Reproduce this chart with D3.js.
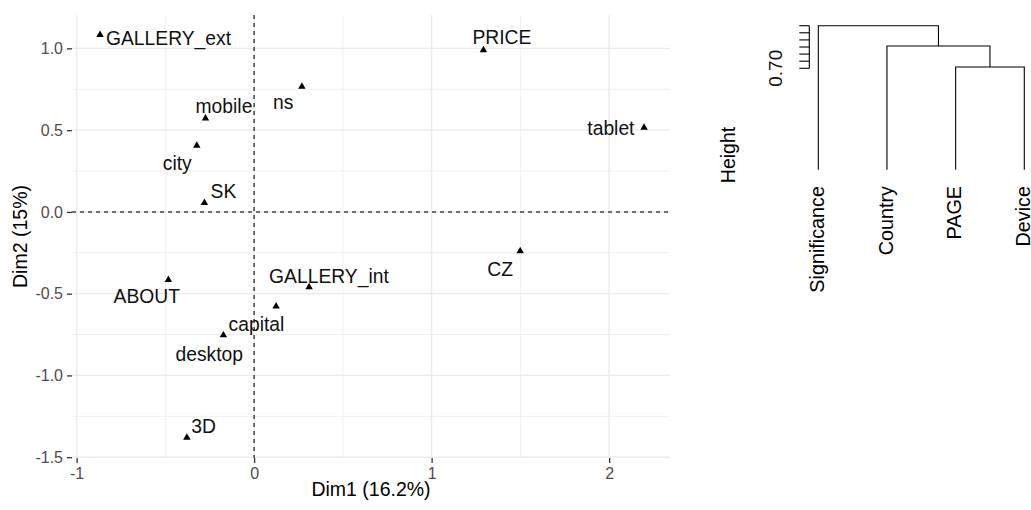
<!DOCTYPE html>
<html>
<head>
<meta charset="utf-8">
<script src="https://cdn.jsdelivr.net/npm/d3@7"></script>
<style>
  html, body { margin: 0; padding: 0; background: #fff; }
  svg { display: block; font-family: "Liberation Sans", Arial, sans-serif; }
</style>
</head>
<body>
<svg id="chart" width="1031" height="510"></svg>
<script>
// ---- MCA factor map: category coordinates ----
const categories = ["GALLERY_ext", "PRICE", "ns", "mobile", "city", "SK", "tablet",
                    "ABOUT", "GALLERY_int", "capital", "desktop", "CZ", "3D"];
const dim1 = [-0.868, 1.292, 0.269, -0.274, -0.323, -0.280, 2.197,
              -0.483, 0.310, 0.124, -0.173, 1.499, -0.379];
const dim2 = [1.083, 0.990, 0.766, 0.572, 0.406, 0.055, 0.515,
              -0.415, -0.460, -0.578, -0.754, -0.240, -1.380];

// repelled label placement (pixel offsets from each point to the label baseline centre)
const labelDx = [68.5, 18.4, -18.7, 18.5, -19.5, 19.0, -33.2, -21.6, 19.8, -19.7, -14.1, -20.0, 16.7];
const labelDy = [10.5, -5.7, 22.0, -5.7, 25.0, -5.0, 7.7, 23.3, -4.6, 25.0, 25.4, 25.0, -5.0];

const xTicks = [-1, 0, 1, 2];
const xMinor = [-0.5, 0.5, 1.5];
const yTicks = [-1.5, -1.0, -0.5, 0.0, 0.5, 1.0];
const yMinor = [-1.25, -0.75, -0.25, 0.25, 0.75];
const xTitle = "Dim1 (16.2%)";
const yTitle = "Dim2 (15%)";

// ---- variable clustering dendrogram ----
const leaves = ["Significance", "Country", "PAGE", "Device"];
const mergeLeft   = ["PAGE",   "Country", "Significance"];
const mergeRight  = ["Device", "m1",      "m2"];
const mergeHeight = [0.7018,   0.7314,    0.76];
const leafEnd = 0.557;
const heightTicks = [0.70, 0.71, 0.72, 0.73, 0.74, 0.75, 0.76];
const heightTickLabels = ["0.70"];

const svg = d3.select("#chart");
const hyphen = f => d => f(d).replace("\u2212", "-");

// ================= factor map =================
const panel = { left: 72, right: 670, top: 15, bottom: 458 };
const x = d3.scaleLinear().domain([-1.026, 2.343]).range([panel.left, panel.right]);
const y = d3.scaleLinear().domain([-1.505, 1.204]).range([panel.bottom, panel.top]);

const grid = svg.append("g");
grid.selectAll(".vminor").data(xMinor).join("line")
  .attr("x1", d => x(d)).attr("x2", d => x(d))
  .attr("y1", panel.top).attr("y2", panel.bottom)
  .attr("stroke", "#efefef").attr("stroke-width", 1);
grid.selectAll(".hminor").data(yMinor).join("line")
  .attr("x1", panel.left).attr("x2", panel.right)
  .attr("y1", d => y(d)).attr("y2", d => y(d))
  .attr("stroke", "#efefef").attr("stroke-width", 1);
grid.selectAll(".vmajor").data(xTicks).join("line")
  .attr("x1", d => x(d)).attr("x2", d => x(d))
  .attr("y1", panel.top).attr("y2", panel.bottom)
  .attr("stroke", "#ebebeb").attr("stroke-width", 1.4);
grid.selectAll(".hmajor").data(yTicks).join("line")
  .attr("x1", panel.left).attr("x2", panel.right)
  .attr("y1", d => y(d)).attr("y2", d => y(d))
  .attr("stroke", "#ebebeb").attr("stroke-width", 1.4);

// reference lines through the origin
svg.append("line")
  .attr("x1", x(0)).attr("x2", x(0)).attr("y1", panel.top).attr("y2", panel.bottom)
  .attr("stroke", "#444").attr("stroke-width", 1.5).attr("stroke-dasharray", "4,4");
svg.append("line")
  .attr("x1", panel.left).attr("x2", panel.right).attr("y1", y(0)).attr("y2", y(0))
  .attr("stroke", "#444").attr("stroke-width", 1.5).attr("stroke-dasharray", "4,4");

// axes
const xAxis = d3.axisBottom(x).tickValues(xTicks).tickFormat(hyphen(d3.format("d")))
  .tickSize(5).tickPadding(5);
const gx = svg.append("g").attr("transform", `translate(0,${panel.bottom})`).call(xAxis);
gx.select(".domain").remove();
gx.selectAll(".tick line").attr("stroke", "#333").attr("stroke-width", 1.3);
gx.selectAll(".tick text").attr("fill", "#4d4d4d").attr("font-size", 16)
  .attr("font-family", "Liberation Sans, Arial, sans-serif");

const yAxis = d3.axisLeft(y).tickValues(yTicks).tickFormat(hyphen(d3.format(".1f")))
  .tickSize(5).tickPadding(4);
const gy = svg.append("g").attr("transform", `translate(${panel.left},0)`).call(yAxis);
gy.select(".domain").remove();
gy.selectAll(".tick line").attr("stroke", "#333").attr("stroke-width", 1.3);
gy.selectAll(".tick text").attr("fill", "#4d4d4d").attr("font-size", 16)
  .attr("font-family", "Liberation Sans, Arial, sans-serif");

svg.append("text")
  .attr("x", (panel.left + panel.right) / 2).attr("y", 496)
  .attr("text-anchor", "middle").attr("font-size", 19.5).attr("fill", "#000")
  .text(xTitle);
svg.append("text")
  .attr("transform", `translate(27,${(panel.top + panel.bottom) / 2}) rotate(-90)`)
  .attr("text-anchor", "middle").attr("font-size", 19.5).attr("fill", "#000")
  .text(yTitle);

// points and labels
const pts = categories.map((c, i) => ({ name: c, d1: dim1[i], d2: dim2[i], dx: labelDx[i], dy: labelDy[i] }));
const tri = d3.symbol().type(d3.symbolTriangle).size(24);
svg.append("g").selectAll("path").data(pts).join("path")
  .attr("transform", d => `translate(${x(d.d1)},${y(d.d2)})`)
  .attr("d", tri).attr("fill", "#000");
svg.append("g").selectAll("text").data(pts).join("text")
  .attr("x", d => x(d.d1) + d.dx).attr("y", d => y(d.d2) + d.dy)
  .attr("text-anchor", "middle").attr("font-size", 19.3).attr("fill", "#111")
  .text(d => d.name);

// ================= dendrogram =================
const lx = d3.scalePoint().domain(leaves).range([818.3, 1024.3]);
const hy = d3.scaleLinear().domain([0.70, 0.76]).range([68.3, 25.7]);

const nodeX = {}, nodeH = {};
leaves.forEach(l => { nodeX[l] = lx(l); nodeH[l] = leafEnd; });
const dendro = svg.append("g").attr("fill", "none").attr("stroke", "#000").attr("stroke-width", 1.1);
mergeLeft.forEach((a, i) => {
  const b = mergeRight[i], h = mergeHeight[i], id = "m" + (i + 1);
  dendro.append("path").attr("d",
    `M${nodeX[a]},${hy(nodeH[a])}V${hy(h)}H${nodeX[b]}V${hy(nodeH[b])}`);
  nodeX[id] = (nodeX[a] + nodeX[b]) / 2;
  nodeH[id] = h;
});

// height axis
const axX = 809.3;
svg.append("line").attr("x1", axX).attr("x2", axX)
  .attr("y1", hy(heightTicks[0])).attr("y2", hy(heightTicks[heightTicks.length - 1]))
  .attr("stroke", "#000").attr("stroke-width", 1.1);
svg.append("g").selectAll("line").data(heightTicks).join("line")
  .attr("x1", axX - 10).attr("x2", axX)
  .attr("y1", d => hy(d)).attr("y2", d => hy(d))
  .attr("stroke", "#000").attr("stroke-width", 1.1);
svg.append("g").selectAll("text").data(heightTickLabels).join("text")
  .attr("transform", d => `translate(781.5,${hy(+d)}) rotate(-90)`)
  .attr("text-anchor", "middle").attr("font-size", 19).attr("fill", "#111")
  .text(d => d);
svg.append("text")
  .attr("transform", "translate(735,155) rotate(-90)")
  .attr("text-anchor", "middle").attr("font-size", 19.5).attr("fill", "#000")
  .text("Height");

svg.append("g").selectAll("text").data(leaves).join("text")
  .attr("transform", d => `translate(${lx(d) + 5.8},186) rotate(-90)`)
  .attr("text-anchor", "end").attr("font-size", 19.8).attr("fill", "#000")
  .text(d => d);
</script>
</body>
</html>
